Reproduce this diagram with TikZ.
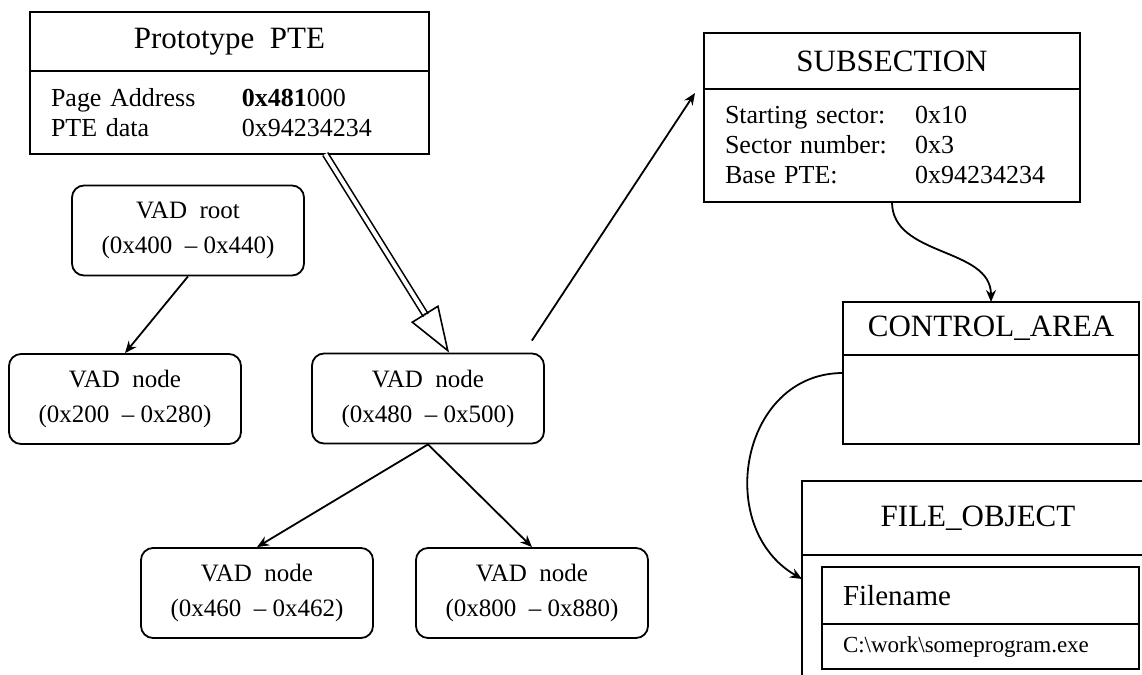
\documentclass[tikz,border=0pt]{standalone}
\usepackage{fontspec}
\setmainfont{Liberation Serif}
\usetikzlibrary{%
  arrows.meta,%
  calc,%
  positioning% wg. " of "
}
\newcommand{\titlefont}{\fontsize{15.5}{18}\selectfont}
\newcommand{\itemfont}{\fontsize{13}{15}\selectfont}
\newcommand{\vadfont}{\fontsize{12.5}{17.5}\selectfont}
\newcommand{\namefont}{\fontsize{14.5}{17}\selectfont}
\newcommand{\pathfont}{\fontsize{11.5}{14}\selectfont}

\begin{document}
\begin{tikzpicture}[x=0.5pt, y=0.5pt, line width=0.9pt, >={Stealth[length=6pt,width=5pt]}]
       \tikzset{head/.style={rectangle, draw, outer sep=0pt, font=\titlefont}}

       \tikzset{body/.style={rectangle, draw, outer sep=0pt, font=\itemfont,
                align=left, inner xsep=10.5pt, inner ysep=0pt}}

       \tikzset{vad/.style={rectangle, rounded corners=6pt, draw, align=center,
                minimum width=116pt, minimum height=45pt, font=\vadfont}}

        \useasboundingbox (0,0) rectangle (1142,-675);
        \clip (0,0) rectangle (1142,-675);

        % prototype PTE
        \node[head, anchor=north west, minimum width=199.5pt, minimum height=29.5pt] (protohead) at (30,-12) {Prototype~~PTE};
        \node[body, below=0pt of protohead, text width=178.5pt, minimum height=41.5pt] (protobody)
            {\makebox[95.5pt][l]{Page Address}\textbf{0x481}000\\ \makebox[95.5pt][l]{PTE data}0x94234234};

        % VAD tree
        \node[vad] (root) at (188,-230.5) {VAD~~root\\(0x400~~-- 0x440)};
        \node[vad] (leftvad) at (125,-399) {VAD~~node\\(0x200~~-- 0x280)};
        \node[vad] (midvad) at (428,-398.5) {VAD~~node\\(0x480~~-- 0x500)};
        \node[vad] (lowleft) at (257,-593) {VAD~~node\\(0x460~~-- 0x462)};
        \node[vad] (lowright) at (532,-593) {VAD~~node\\(0x800~~-- 0x880)};

        % subsection
        \node[head, anchor=north west, minimum width=188pt, minimum height=28pt] (subhead) at (704,-33) {SUBSECTION};
        \node[body, below=0pt of subhead, text width=167pt, minimum height=56.5pt] (subbody)
            {\makebox[95pt][l]{Starting sector:}0x10\\ \makebox[95pt][l]{Sector number:}0x3\\ \makebox[95pt][l]{Base PTE:}0x94234234};

        % control area
        \node[head, anchor=north west, minimum width=148pt, minimum height=26.5pt] (ctrlhead) at (843,-302) {CONTROL\_AREA};
        \node[body, below=0pt of ctrlhead, minimum width=148pt, minimum height=44.5pt] (ctrlbody) {};

        % file object
        \node[head, anchor=north west, minimum width=176pt, minimum height=37pt] (filehead) at (802,-481) {FILE\_OBJECT};
        \node[body, below=0pt of filehead, minimum width=176pt, minimum height=80pt] (filebody) {};
        \node[body, anchor=north west, text width=137.5pt, minimum height=28.5pt, font=\namefont] (namehead) at (822,-567) {Filename};
        \node[body, below=0pt of namehead, text width=137.5pt, minimum height=22.5pt, font=\pathfont] (namebody)
            {C:\textbackslash work\textbackslash someprogram.exe};

        \draw[->](root.south) -- (leftvad.north);
        \draw[->](midvad.south) -- (lowleft.north);
        \draw[->](midvad.south) -- (lowright.north);
        \draw[->]($(midvad.north east)+(-13,12)$) -- ($(subbody.north west)+(-9,-4)$);
        \draw[->](subbody.south) to[out=-90, in=90] (ctrlhead.north);
        \draw[->]($(ctrlbody.north west)+(0,-18)$) to[out=180, in=150, looseness=1.25] ($(filebody.north west)+(0,-24)$);

        % hollow arrow
        \coordinate (dblstart) at ($(protobody.south west)!0.74!(protobody.south east)$);
        \coordinate (dblend) at ($(midvad.north west)!0.59!(midvad.north east)$);
        \draw[double, double distance=2pt, line width=0.8pt, shorten >=22pt](dblstart) -- (dblend);
        \draw[line width=0.8pt, -{Triangle[open, length=23pt, width=16pt]}]($(dblend)!23pt!(dblstart)$) -- (dblend);

\end{tikzpicture}
\end{document}
